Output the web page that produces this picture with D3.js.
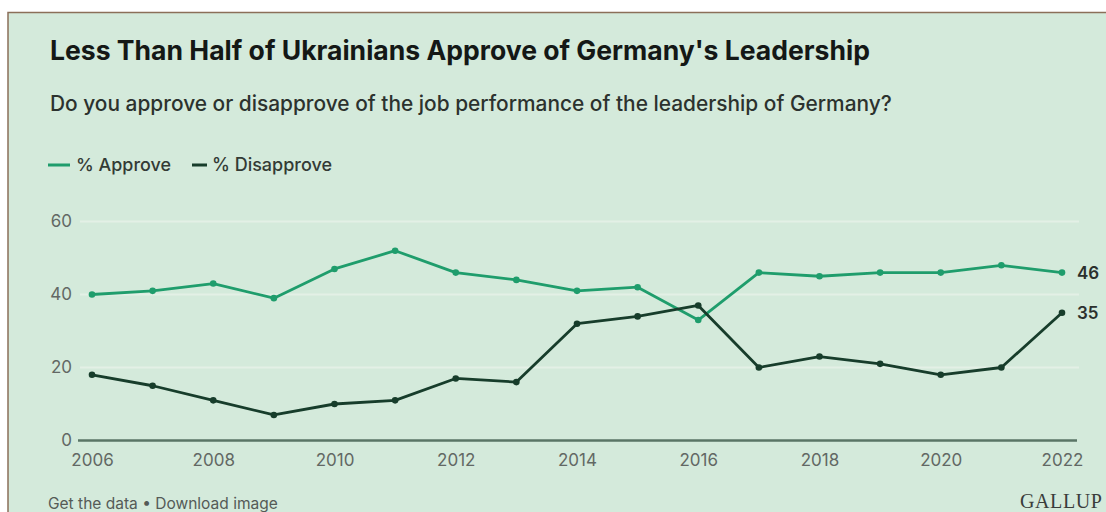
<!DOCTYPE html>
<html>
<head>
<meta charset="utf-8">
<script src="https://cdn.jsdelivr.net/npm/d3@7"></script>
<style>
  html, body { margin: 0; padding: 0; background: #ffffff; }
  svg { display: block; }
</style>
</head>
<body>
<script>
// ---- data ----
const years = [2006, 2007, 2008, 2009, 2010, 2011, 2012, 2013, 2014, 2015, 2016, 2017, 2018, 2019, 2020, 2021, 2022];
const approve = [40, 41, 43, 39, 47, 52, 46, 44, 41, 42, 33, 46, 45, 46, 46, 48, 46];
const disapprove = [18, 15, 11, 7, 10, 11, 17, 16, 32, 34, 37, 20, 23, 21, 18, 20, 35];
const xTickLabels = [2006, 2008, 2010, 2012, 2014, 2016, 2018, 2020, 2022];
const yTickLabels = [0, 20, 40, 60];
const seriesNames = ["% Approve", "% Disapprove"];
const titleText = "Less Than Half of Ukrainians Approve of Germany's Leadership";
const subtitleText = "Do you approve or disapprove of the job performance of the leadership of Germany?";
const footerText = "Get the data \u2022 Download image";
const brandText = "GALLUP";

// ---- layout ----
const W = 1106, H = 512;
const colApprove = "#1f9d6c";
const colDisapprove = "#173d2b";
const font = "Inter, 'Noto Sans', Arial, sans-serif";

const svg = d3.select("body").append("svg").attr("width", W).attr("height", H);

svg.append("rect").attr("x", 8).attr("y", 12.5).attr("width", W + 10).attr("height", H + 10)
  .attr("fill", "#d4eadb").attr("stroke", "#8b6f59").attr("stroke-width", 1.5);

function fit(sel, target) {
  const n = sel.node();
  const w = n.getComputedTextLength();
  const s = parseFloat(sel.attr("font-size"));
  sel.attr("font-size", (s * target / w).toFixed(2));
  return sel;
}

// Title & subtitle
fit(svg.append("text").attr("x", 50).attr("y", 60).attr("font-family", font)
  .attr("font-weight", 700).attr("font-size", 21).attr("fill", "#141816").text(titleText), 820);
fit(svg.append("text").attr("x", 50).attr("y", 111).attr("font-family", font)
  .attr("font-weight", 500).attr("font-size", 17).attr("fill", "#2c322e").text(subtitleText), 842);

// Legend
const legend = svg.append("g");
legend.append("line").attr("x1", 48).attr("x2", 70).attr("y1", 165).attr("y2", 165)
  .attr("stroke", colApprove).attr("stroke-width", 3);
fit(legend.append("text").attr("x", 76).attr("y", 171).attr("font-family", font)
  .attr("font-size", 15).attr("font-weight", 500).attr("fill", "#333a35").text(seriesNames[0]), 95);
legend.append("line").attr("x1", 192).attr("x2", 207).attr("y1", 165).attr("y2", 165)
  .attr("stroke", colDisapprove).attr("stroke-width", 3);
fit(legend.append("text").attr("x", 212).attr("y", 171).attr("font-family", font)
  .attr("font-size", 15).attr("font-weight", 500).attr("fill", "#333a35").text(seriesNames[1]), 120);

// Scales
const x = d3.scaleLinear().domain([2006, 2022]).range([92, 1062]);
const y = d3.scaleLinear().domain([0, 60]).range([440.5, 221.5]);

// Gridlines
svg.append("g").selectAll("line").data(yTickLabels.filter(d => d > 0)).join("line")
  .attr("x1", 80).attr("x2", 1079)
  .attr("y1", d => y(d)).attr("y2", d => y(d))
  .attr("stroke", "#e3f0e6").attr("stroke-width", 2);

// Y axis labels
const yAxis = svg.append("g").attr("transform", "translate(72,0)")
  .call(d3.axisLeft(y).tickValues(yTickLabels).tickSize(0).tickPadding(0).tickFormat(d3.format("d")));
yAxis.select(".domain").remove();
yAxis.selectAll("text").attr("font-family", font).attr("font-size", 17).attr("fill", "#626864");

// Baseline axis
svg.append("line").attr("x1", 78).attr("x2", 1077).attr("y1", y(0)).attr("y2", y(0))
  .attr("stroke", "#5a7566").attr("stroke-width", 2.5);

// X axis labels
const xAxis = svg.append("g").attr("transform", `translate(0,${y(0)})`)
  .call(d3.axisBottom(x).tickValues(xTickLabels).tickSize(0).tickPadding(13).tickFormat(d3.format("d")));
xAxis.select(".domain").remove();
xAxis.selectAll("text").attr("font-family", font).attr("font-size", 17).attr("fill", "#626864");

// Lines
const line = d3.line().x((d, i) => x(years[i])).y(d => y(d));
[[approve, colApprove], [disapprove, colDisapprove]].forEach(([vals, col]) => {
  svg.append("path").datum(vals).attr("d", line).attr("fill", "none")
    .attr("stroke", col).attr("stroke-width", 2.8).attr("stroke-linejoin", "round");
  svg.append("g").selectAll("circle").data(vals).join("circle")
    .attr("cx", (d, i) => x(years[i])).attr("cy", d => y(d)).attr("r", 3.3).attr("fill", col);
});

// End labels
const last = years.length - 1;
[[approve[last]], [disapprove[last]]].forEach(([v]) => {
  svg.append("text").attr("x", x(years[last]) + 15).attr("y", y(v)).attr("dy", "0.35em")
    .attr("font-family", font).attr("font-size", 17).attr("font-weight", 600)
    .attr("fill", "#2b302d").text(v);
});

// Footer
fit(svg.append("text").attr("x", 48).attr("y", 509).attr("font-family", font)
  .attr("font-size", 13).attr("fill", "#555b57").text(footerText), 230);
svg.append("text").attr("x", 1020).attr("y", 508).attr("font-family", "'Liberation Serif', 'DejaVu Serif', serif")
  .attr("font-size", 20).attr("letter-spacing", 0.6).attr("fill", "#3a3d3b").text(brandText);
</script>
</body>
</html>
